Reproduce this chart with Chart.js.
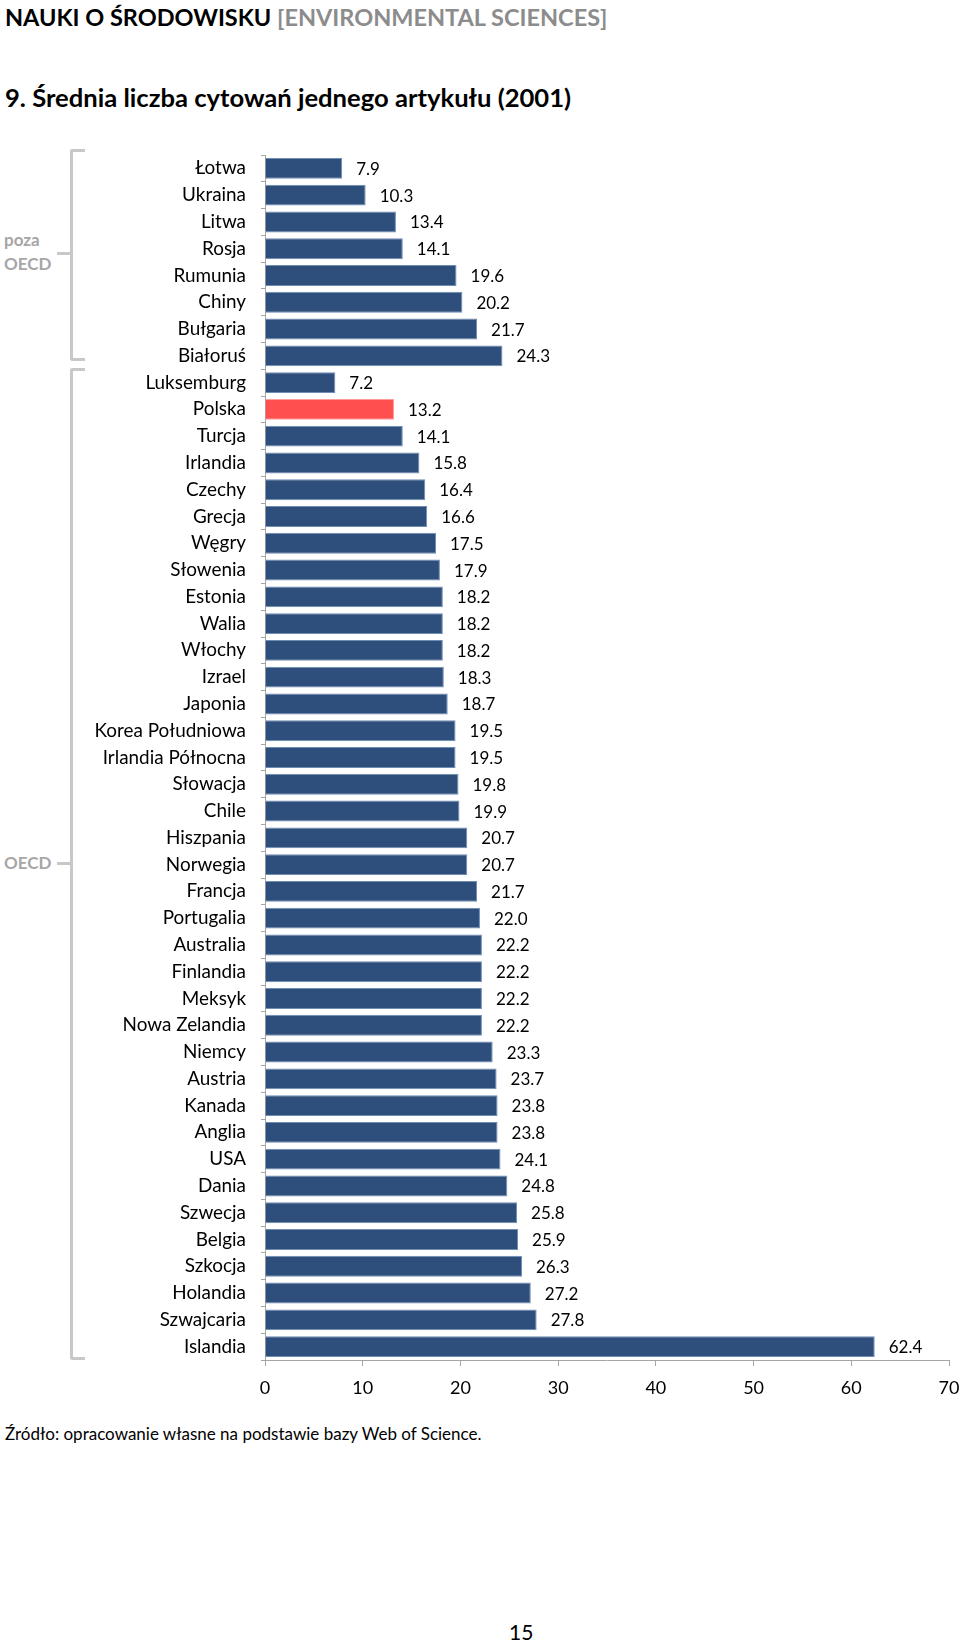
<!DOCTYPE html>
<html>
<head>
<meta charset="utf-8">
<script src="https://cdn.jsdelivr.net/npm/chart.js@4/dist/chart.umd.min.js"></script>
<style>
    body {
        margin: 0;
        width: 960px;
        height: 1644px;
        position: relative;
        background: #FFFFFF;
        font-family: Lato, "Open Sans", sans-serif;
        color: #000000;
    }

    .text {
        position: absolute;
        white-space: nowrap;
    }

    .header {
        left: 5px;
        top: 3px;
        font-size: 23.5px;
        font-weight: bold;
    }

    .header span {
        color: #8C8C8C;
    }

    .title {
        left: 5px;
        top: 82px;
        font-size: 25.6px;
        font-weight: bold;
    }

    .group-label {
        left: 4px;
        font-size: 17px;
        font-weight: bold;
        color: #A6A6A6;
        line-height: 24px;
    }

    .bracket {
        position: absolute;
        left: 70px;
        width: 12px;
        border: 3px solid #C8C8C8;
        border-right: none;
        border-radius: 3px 0 0 3px;
    }

    .bracket-tick {
        position: absolute;
        left: 57px;
        width: 14px;
        height: 3px;
        background: #C8C8C8;
    }

    .source {
        left: 5px;
        top: 1423px;
        font-size: 17px;
    }

    .page {
        left: 509px;
        top: 1619px;
        font-size: 21px;
    }

    #chartBox {
        position: absolute;
        left: 0;
        top: 140px;
        width: 960px;
        height: 1270px;
    }
</style>
</head>
<body>

<div class="text header">NAUKI O ŚRODOWISKU <span>[ENVIRONMENTAL SCIENCES]</span></div>
<div class="text title">9. Średnia liczba cytowań jednego artykułu (2001)</div>

<div class="bracket" style="top: 149px; height: 206px;"></div>
<div class="bracket-tick" style="top: 252px;"></div>
<div class="text group-label" style="top: 228px;">poza<br>OECD</div>

<div class="bracket" style="top: 368px; height: 986px;"></div>
<div class="bracket-tick" style="top: 862px;"></div>
<div class="text group-label" style="top: 851px;">OECD</div>

<div id="chartBox"><canvas id="citationChart"></canvas></div>

<div class="text source">Źródło: opracowanie własne na podstawie bazy Web of Science.</div>
<div class="text page">15</div>

<script>
const countries = [
    "Łotwa", "Ukraina", "Litwa", "Rosja", "Rumunia", "Chiny", "Bułgaria", "Białoruś",
    "Luksemburg", "Polska", "Turcja", "Irlandia", "Czechy", "Grecja", "Węgry", "Słowenia",
    "Estonia", "Walia", "Włochy", "Izrael", "Japonia", "Korea Południowa", "Irlandia Północna",
    "Słowacja", "Chile", "Hiszpania", "Norwegia", "Francja", "Portugalia", "Australia",
    "Finlandia", "Meksyk", "Nowa Zelandia", "Niemcy", "Austria", "Kanada", "Anglia", "USA",
    "Dania", "Szwecja", "Belgia", "Szkocja", "Holandia", "Szwajcaria", "Islandia"
];

const citations = [
    7.9, 10.3, 13.4, 14.1, 19.6, 20.2, 21.7, 24.3,
    7.2, 13.2, 14.1, 15.8, 16.4, 16.6, 17.5, 17.9,
    18.2, 18.2, 18.2, 18.3, 18.7, 19.5, 19.5,
    19.8, 19.9, 20.7, 20.7, 21.7, 22.0, 22.2,
    22.2, 22.2, 22.2, 23.3, 23.7, 23.8, 23.8, 24.1,
    24.8, 25.8, 25.9, 26.3, 27.2, 27.8, 62.4
];

const xTicks = [0, 10, 20, 30, 40, 50, 60, 70];

const highlighted = "Polska";

const FONT = "Lato, 'Open Sans', sans-serif";
const AXIS_GREY = "#A6A6A6";


const valueLabels = {
    id: "valueLabels",
    afterDatasetsDraw: function (chart) {
        const ctx = chart.ctx;
        const meta = chart.getDatasetMeta(0);

        ctx.save();
        ctx.font = "17px " + FONT;
        ctx.fillStyle = "#000000";
        ctx.textAlign = "left";
        ctx.textBaseline = "middle";

        meta.data.forEach(function (bar, i) {
            ctx.fillText(citations[i].toFixed(1), bar.x + 14, bar.y + 1);
        });

        ctx.restore();
    }
};


// scales add half a label of padding on their own; the page layout wants none
function clearScalePadding(scale) {
    scale.paddingTop = 0;
    scale.paddingBottom = 0;
    scale.paddingLeft = 0;
    scale.paddingRight = 0;
}


new Chart(document.getElementById("citationChart"), {
    type: "bar",
    data: {
        labels: countries,
        datasets: [
            {
                data: citations,
                backgroundColor: countries.map(function (c) {
                    return c === highlighted ? "#FF4F4F" : "#2E4F7C";
                }),
                borderColor: countries.map(function (c) {
                    return c === highlighted ? "#FF9C9C" : "#6F8DB3";
                }),
                borderWidth: 1,
                categoryPercentage: 1,
                barPercentage: 0.78
            }
        ]
    },
    options: {
        indexAxis: "y",
        responsive: true,
        maintainAspectRatio: false,
        animation: false,
        layout: {
            padding: { top: 15, right: 11, bottom: 10, left: 0 }
        },
        plugins: {
            legend: { display: false },
            tooltip: { enabled: false }
        },
        scales: {
            x: {
                min: 0,
                max: 70,
                afterBuildTicks: function (scale) {
                    scale.ticks = xTicks.map(function (v) {
                        return { value: v };
                    });
                },
                afterFit: function (scale) {
                    scale.height = 40;
                    clearScalePadding(scale);
                },
                grid: {
                    drawOnChartArea: false,
                    drawTicks: true,
                    tickLength: 6,
                    color: AXIS_GREY
                },
                border: { color: AXIS_GREY, width: 1 },
                ticks: {
                    padding: 11,
                    color: "#000000",
                    font: { family: FONT, size: 18 }
                }
            },
            y: {
                afterFit: function (scale) {
                    scale.width = 265;
                    clearScalePadding(scale);
                },
                grid: {
                    drawOnChartArea: false,
                    drawTicks: true,
                    tickLength: 4,
                    color: AXIS_GREY,
                    offset: true
                },
                border: { color: AXIS_GREY, width: 1 },
                ticks: {
                    padding: 15,
                    autoSkip: false,
                    color: "#000000",
                    font: { family: FONT, size: 18.9 }
                }
            }
        }
    },
    plugins: [valueLabels]
});
</script>
</body>
</html>
